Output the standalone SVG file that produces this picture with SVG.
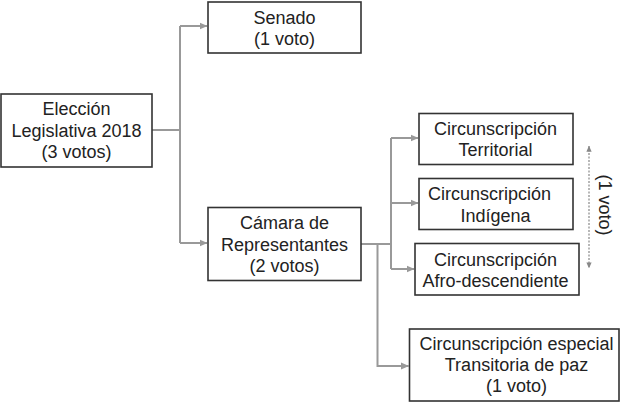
<svg xmlns="http://www.w3.org/2000/svg" width="624" height="403" viewBox="0 0 624 403">
<style>
.box{fill:#fff;stroke:#333;stroke-width:1.6}
.t{font-family:"Liberation Sans",Arial,sans-serif;font-size:18px;fill:#222;text-anchor:middle}
.c{fill:none;stroke:#999;stroke-width:2}
.arr{marker-end:url(#ah)}
.d{fill:none;stroke:#888;stroke-width:1.2;stroke-dasharray:2 1.5}
</style>
<defs>
<marker id="ah" viewBox="0 0 8 8" refX="7.5" refY="4" markerWidth="4" markerHeight="4" orient="auto" markerUnits="strokeWidth">
<path d="M0,0.5 L8,4 L0,7.5 Z" fill="#999"/>
</marker>
<marker id="dh" viewBox="0 0 8 8" refX="7.5" refY="4" markerWidth="5" markerHeight="5" orient="auto-start-reverse" markerUnits="strokeWidth">
<path d="M0,0.5 L8,4 L0,7.5 Z" fill="#888"/>
</marker>
</defs>
<rect width="624" height="403" fill="#fff"/>
<g id="connectors">
<path class="c" d="M152,130 H180"/>
<path class="c" d="M180,26 V243"/>
<path class="c arr" d="M180,26 H207"/>
<path class="c arr" d="M180,243 H207"/>
<path class="c" d="M361,244 H391"/>
<path class="c" d="M391,138 V269"/>
<path class="c arr" d="M391,138 H418"/>
<path class="c arr" d="M391,203 H418"/>
<path class="c arr" d="M391,269 H414"/>
<path class="c arr" d="M377.5,244 V366 H408.5"/>
<path class="d" d="M589,146 V268" marker-start="url(#dh)" marker-end="url(#dh)"/>
</g>
<g id="eleccion">
<rect class="box" x="1" y="94" width="151" height="73"/>
<text class="t" x="76.5" y="115">Elección</text>
<text class="t" x="76.5" y="137">Legislativa 2018</text>
<text class="t" x="76.5" y="158">(3 votos)</text>
</g>
<g id="senado">
<rect class="box" x="208" y="2" width="153" height="51"/>
<text class="t" x="284.5" y="23.5">Senado</text>
<text class="t" x="284.5" y="45">(1 voto)</text>
</g>
<g id="camara">
<rect class="box" x="208" y="207.5" width="153" height="73"/>
<text class="t" x="284.5" y="228.5">Cámara de</text>
<text class="t" x="284.5" y="250.5">Representantes</text>
<text class="t" x="284.5" y="272">(2 votos)</text>
</g>
<g id="territorial">
<rect class="box" x="419" y="113.5" width="154" height="51"/>
<text class="t" x="495.5" y="134.5">Circunscripción</text>
<text class="t" x="495.5" y="156">Territorial</text>
</g>
<g id="indigena">
<rect class="box" x="419" y="178.5" width="154" height="51"/>
<text class="t" x="489.5" y="200">Circunscripción</text>
<text class="t" x="495.5" y="221.5">Indígena</text>
</g>
<g id="afro">
<rect class="box" x="415" y="243.5" width="164" height="51.5"/>
<text class="t" x="495.5" y="265.5">Circunscripción</text>
<text class="t" x="495.5" y="287">Afro-descendiente</text>
</g>
<g id="especial">
<rect class="box" x="409.5" y="329" width="209.5" height="72"/>
<text class="t" x="516.5" y="349.5">Circunscripción especial</text>
<text class="t" x="516.5" y="371">Transitoria de paz</text>
<text class="t" x="516.5" y="392">(1 voto)</text>
</g>
<g id="voto-label">
<text class="t" transform="translate(599,205) rotate(90)" x="0" y="0">(1 voto)</text>
</g>
</svg>
